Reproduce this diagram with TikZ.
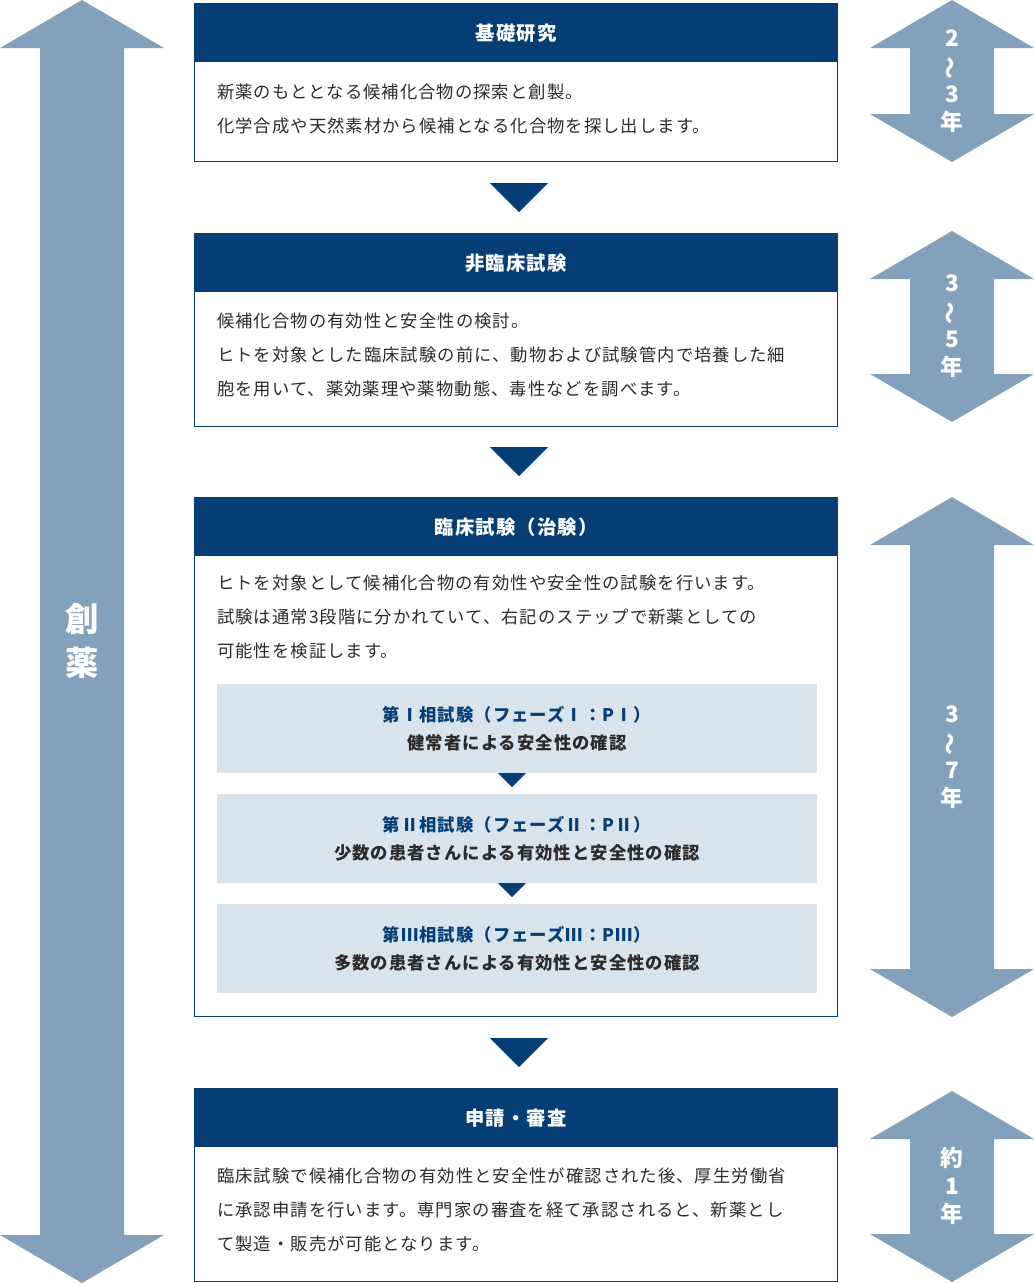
\documentclass[tikz,border=0pt]{standalone}
\usepackage{fontspec}
\setmainfont{Noto Sans CJK JP}[LetterSpace=6]
\usetikzlibrary{positioning}
\definecolor{navy}{HTML}{053E74}
\definecolor{steel}{HTML}{84A1BC}
\definecolor{pale}{HTML}{D9E3EC}
\definecolor{ink}{HTML}{2B2B2B}
\tikzset{
  head/.style={fill=navy,text=white,font=\fontsize{14.5}{16}\selectfont\bfseries},
  frame/.style={draw=navy,line width=1pt},
  body/.style={anchor=north west,align=left,text=ink,inner sep=0pt,font=\fontsize{13}{25.5}\selectfont},
  phase/.style={fill=pale},
  years/.style={text=white,align=center,inner sep=0pt,font=\fontsize{17}{21}\selectfont\bfseries},
  down/.style={fill=navy}
}
% vertical double arrow: center x, half head, half shaft, top, bottom
\newcommand{\dblarrow}[5]{%
  \fill[steel] (#1,#4) -- (#1+#2,#4+48) -- (#1+#3,#4+48) -- (#1+#3,#5-48) -- (#1+#2,#5-48)
    -- (#1,#5) -- (#1-#2,#5-48) -- (#1-#3,#5-48) -- (#1-#3,#4+48) -- (#1-#2,#4+48) -- cycle;}
\newcommand{\tri}[3]{\fill[navy] (#1-#3,#2) -- (#1+#3,#2) -- (#1,#2+#3) -- cycle;}
\newcommand{\tl}{\rotatebox[origin=c]{90}{～}}
\begin{document}
\begin{tikzpicture}[x=0.75pt,y=-0.75pt]
  \useasboundingbox (0,0) rectangle (1034,1283);
  % side arrows
  \dblarrow{82}{82}{42}{0}{1283}
  \node[years,font=\fontsize{25}{33}\selectfont\bfseries] (sou) at (82,641) {創\\薬};
  \dblarrow{952}{82}{42}{0}{162}
  \node[years] (y1) at (952,81) {2\\\tl\\3\\年};
  \dblarrow{952}{82}{42}{231}{422}
  \node[years] (y2) at (952,326) {3\\\tl\\5\\年};
  \dblarrow{952}{82}{42}{497}{1017}
  \node[years] (y3) at (952,757) {3\\\tl\\7\\年};
  \dblarrow{952}{82}{42}{1091}{1282}
  \node[years] (y4) at (952,1186) {約\\1\\年};
  % stage 1
  \draw[frame] (194.5,3.5) rectangle (837.5,161.5);
  \fill[navy] (194,3) rectangle (838,62);
  \node[head] (h1) at (516,33) {基礎研究};
  \node[body] (b1) at (217,84) {新薬のもととなる候補化合物の探索と創製。\\化学合成や天然素材から候補となる化合物を探し出します。};
  \tri{519}{183}{29}
  % stage 2
  \draw[frame] (194.5,233.5) rectangle (837.5,426.5);
  \fill[navy] (194,233) rectangle (838,292);
  \node[head] (h2) at (516,263) {非臨床試験};
  \node[body] (b2) at (217,313) {候補化合物の有効性と安全性の検討。\\ヒトを対象とした臨床試験の前に、動物および試験管内で培養した細\\胞を用いて、薬効薬理や薬物動態、毒性などを調べます。};
  \tri{519}{447}{29}
  % stage 3
  \draw[frame] (194.5,497.5) rectangle (837.5,1016.5);
  \fill[navy] (194,497) rectangle (838,556);
  \node[head] (h3) at (516,527) {臨床試験（治験）};
  \node[body] (b3) at (217,575) {ヒトを対象として候補化合物の有効性や安全性の試験を行います。\\試験は通常3段階に分かれていて、右記のステップで新薬としての\\可能性を検証します。};
  \fill[phase] (217,684) rectangle (817,773);
  \fill[phase] (217,794) rectangle (817,883);
  \fill[phase] (217,904) rectangle (817,993);
  \node[align=center,font=\fontsize{13}{21}\selectfont\bfseries] (p1) at (517,729)
    {\textcolor{navy}{第Ⅰ相試験（フェーズⅠ：PⅠ）}\\\textcolor{ink}{健常者による安全性の確認}};
  \node[align=center,font=\fontsize{13}{21}\selectfont\bfseries] (p2) at (517,839)
    {\textcolor{navy}{第Ⅱ相試験（フェーズⅡ：PⅡ）}\\\textcolor{ink}{少数の患者さんによる有効性と安全性の確認}};
  \node[align=center,font=\fontsize{13}{21}\selectfont\bfseries] (p3) at (517,949)
    {\textcolor{navy}{第Ⅲ相試験（フェーズⅢ：PⅢ）}\\\textcolor{ink}{多数の患者さんによる有効性と安全性の確認}};
  \tri{512}{773}{14}
  \tri{512}{883}{14}
  \tri{519}{1038}{29}
  % stage 4
  \draw[frame] (194.5,1088.5) rectangle (837.5,1281.5);
  \fill[navy] (194,1088) rectangle (838,1147);
  \node[head] (h4) at (516,1118) {申請・審査};
  \node[body] (b4) at (217,1168) {臨床試験で候補化合物の有効性と安全性が確認された後、厚生労働省\\に承認申請を行います。専門家の審査を経て承認されると、新薬とし\\て製造・販売が可能となります。};
\end{tikzpicture}
\end{document}
